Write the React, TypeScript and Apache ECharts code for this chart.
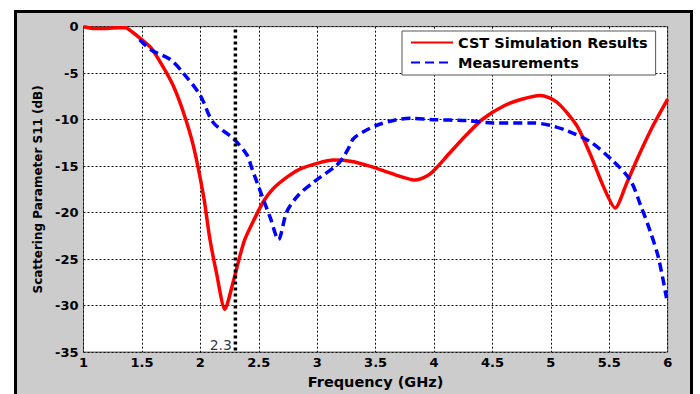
import React, { useEffect, useRef } from "react";
import * as echarts from "echarts";

const cstFreq = [1.0, 1.1, 1.2, 1.3, 1.36, 1.42, 1.48, 1.58, 1.68, 1.77, 1.855, 1.94, 2.03, 2.08, 2.14, 2.21, 2.28, 2.34, 2.38, 2.45, 2.54, 2.625, 2.75, 2.855, 3.0, 3.14, 3.3, 3.45, 3.57, 3.71, 3.84, 3.97, 4.14, 4.28, 4.42, 4.6, 4.75, 4.91, 5.05, 5.22, 5.34, 5.45, 5.55, 5.65, 5.74, 5.86, 6.0];
const cstS11 = [0, -0.2, -0.2, -0.1, -0.1, -0.6, -1.2, -2.3, -4.3, -6.4, -9.2, -12.8, -18.4, -22.7, -26.6, -30.4, -27.5, -24.6, -22.9, -21.0, -18.8, -17.4, -16.1, -15.3, -14.7, -14.35, -14.5, -15.0, -15.5, -16.1, -16.5, -15.8, -13.5, -11.6, -9.9, -8.5, -7.8, -7.4, -8.1, -10.6, -13.8, -17.2, -19.5, -16.8, -14.2, -11.0, -7.8];

const measFreq = [1.48, 1.58, 1.74, 1.855, 2.0, 2.11, 2.28, 2.4, 2.44, 2.54, 2.6, 2.668, 2.74, 2.84, 2.97, 3.025, 3.167, 3.225, 3.267, 3.31, 3.395, 3.51, 3.68, 3.8, 3.99, 4.28, 4.51, 4.85, 4.99, 5.14, 5.34, 5.536, 5.68, 5.765, 5.85, 5.92, 5.99];
const measS11 = [-1.4, -2.5, -3.5, -5.0, -7.4, -10.3, -12.0, -13.8, -15.2, -18.6, -20.6, -22.9, -19.9, -18.1, -16.7, -16.2, -14.9, -14.0, -13.1, -12.05, -11.3, -10.6, -10.0, -9.85, -10.0, -10.1, -10.35, -10.35, -10.6, -11.2, -12.4, -14.5, -16.5, -19.1, -22.0, -24.8, -29.2];

const markerFreq = 2.3;
const markerLabel = "2.3";
const xTicks = { min: 1, max: 6, interval: 0.5 };
const yTicks = { min: -35, max: 0, interval: 5 };

const FONT = "'DejaVu Sans', 'Liberation Sans', Arial, sans-serif";

export default function App() {
  const ref = useRef<HTMLDivElement>(null);
  useEffect(() => {
    if (!ref.current) return;
    const chart = echarts.init(ref.current, null, { renderer: "svg" });
    const zip = (xs: number[], ys: number[]) => xs.map((x, i) => [x, ys[i]]);
    chart.setOption({
      animation: false,
      backgroundColor: "#cccccc",
      textStyle: { fontFamily: FONT },
      graphic: [
        { type: "rect", shape: { x: 0, y: 0, width: 700, height: 10 }, style: { fill: "#fff" }, silent: true },
        { type: "rect", shape: { x: 0, y: 0, width: 14, height: 394 }, style: { fill: "#fff" }, silent: true },
        { type: "rect", shape: { x: 693, y: 0, width: 7, height: 394 }, style: { fill: "#fff" }, silent: true },
        {
          type: "polyline",
          shape: { points: [[15.5, 400], [15.5, 11.5], [691.5, 11.5], [691.5, 400]] },
          style: { stroke: "#000", lineWidth: 3, fill: null },
          silent: true,
        },
      ],
      grid: {
        left: 83.5,
        right: 32.3,
        top: 26.7,
        bottom: 38.3,
        show: true,
        backgroundColor: "#fff",
        borderColor: "#555",
        borderWidth: 1,
      },
      legend: {
        data: ["CST Simulation Results", "Measurements"],
        orient: "vertical",
        left: 402,
        top: 31,
        padding: [4, 8, 5, 8],
        itemGap: 5,
        itemWidth: 42,
        itemHeight: 15,
        itemStyle: { opacity: 0 },
        backgroundColor: "#fff",
        borderColor: "#555",
        borderWidth: 1,
        borderRadius: 0,
        textStyle: { fontFamily: FONT, fontWeight: "bold", fontSize: 14.5, color: "#000" },
      },
      xAxis: {
        type: "value",
        min: xTicks.min,
        max: xTicks.max,
        interval: xTicks.interval,
        name: "Frequency (GHz)",
        nameLocation: "middle",
        nameGap: 21,
        nameTextStyle: { fontFamily: FONT, fontWeight: "bold", fontSize: 14.5, color: "#000" },
        axisLine: { show: false },
        axisTick: { show: false },
        axisLabel: { fontFamily: FONT, fontWeight: "bold", fontSize: 13, color: "#000", margin: 4 },
        splitLine: { show: true, lineStyle: { color: "#111", width: 1, type: [2, 2] } },
      },
      yAxis: {
        type: "value",
        min: yTicks.min,
        max: yTicks.max,
        interval: yTicks.interval,
        name: "Scattering Parameter S11 (dB)",
        nameLocation: "middle",
        nameGap: 40,
        nameTextStyle: { fontFamily: FONT, fontWeight: "bold", fontSize: 12, color: "#000" },
        axisLine: { show: false },
        axisTick: { show: false },
        axisLabel: { fontFamily: FONT, fontWeight: "bold", fontSize: 13, color: "#000", margin: 5 },
        splitLine: { show: true, lineStyle: { color: "#111", width: 1, type: [2, 2] } },
      },
      series: [
        {
          name: "CST Simulation Results",
          type: "line",
          data: zip(cstFreq, cstS11),
          smooth: 0.25,
          symbol: "none",
          lineStyle: { color: "#ff0000", width: 3.5 },
          itemStyle: { color: "#ff0000" },
          z: 3,
        },
        {
          name: "Measurements",
          type: "line",
          data: zip(measFreq, measS11),
          smooth: 0.3,
          symbol: "none",
          lineStyle: { color: "#0000ff", width: 3.5, type: [9, 5] },
          itemStyle: { color: "#0000ff" },
          z: 4,
        },
        {
          name: "marker",
          type: "line",
          data: [[markerFreq, -0.3], [markerFreq, yTicks.min]],
          symbol: "none",
          lineStyle: { color: "#000", width: 3.5, type: [3, 3] },
          z: 5,
        },
        {
          name: "markerLabel",
          type: "scatter",
          data: [[markerFreq, yTicks.min]],
          symbolSize: 1,
          itemStyle: { color: "transparent" },
          label: {
            show: true,
            formatter: markerLabel,
            position: "left",
            distance: 3,
            offset: [0, -7],
            fontFamily: FONT,
            fontSize: 14,
            color: "#000",
          },
          z: 6,
        },
      ],
    });
    return () => chart.dispose();
  }, []);
  return <div ref={ref} style={{ position: "fixed", left: 0, top: 0, width: 700, height: 394 }} />;
}
